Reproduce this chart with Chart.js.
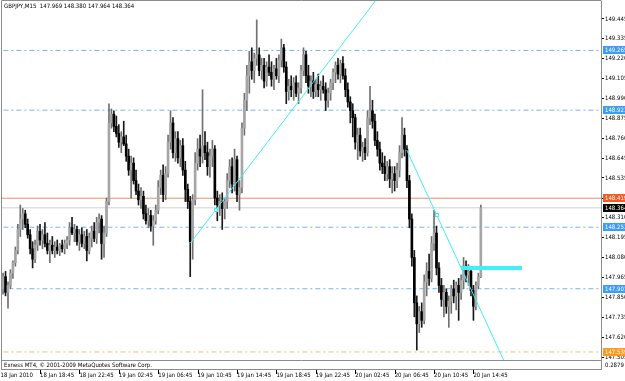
<!DOCTYPE html>
<html>
<head>
<meta charset="utf-8">
<title>GBPJPY,M15</title>
<script src="https://cdn.jsdelivr.net/npm/chart.js@4.4.1/dist/chart.umd.min.js"></script>
<style>
  html, body { margin: 0; padding: 0; background: #fff; }
  #wrap { width: 625px; height: 381px; }
</style>
</head>
<body>
<div id="wrap"><canvas id="chart" width="625" height="381"></canvas></div>
<script>
// --- DATA (M15 bars, 18 Jan 14:45 .. 20 Jan 15:30) ---
const symbol = 'GBPJPY,M15';

const opens = [
  147.93,147.90,147.97,147.88,147.92,147.99,148.05,148.12,148.24,148.30,
  148.33,148.27,148.21,148.13,148.07,148.15,148.23,148.18,148.21,148.16,
  148.12,148.15,148.12,148.14,148.12,148.15,148.13,148.16,148.18,148.25,
  148.22,148.24,148.17,148.21,148.16,148.20,148.12,148.19,148.23,148.19,
  148.28,148.30,148.16,148.22,148.40,148.85,148.90,148.83,148.79,148.74,
  148.77,148.73,148.66,148.58,148.62,148.52,148.46,148.41,148.43,148.33,
  148.29,148.32,148.26,148.29,148.35,148.48,148.55,148.44,148.56,148.74,
  148.85,148.68,148.76,148.65,148.72,148.58,148.47,148.40,148.17,148.41,
  148.62,148.70,148.66,148.72,148.68,148.60,148.66,148.70,148.42,148.38,
  148.40,148.36,148.40,148.52,148.60,148.50,148.64,148.44,148.48,148.82,
  148.98,149.12,149.20,149.15,149.22,149.24,149.15,149.18,149.09,149.17,
  149.14,149.10,149.16,149.12,149.21,149.28,149.17,149.03,149.06,149.04,
  149.08,149.02,149.05,149.15,149.24,149.12,149.06,149.09,149.03,149.07,
  149.04,149.06,149.04,148.98,149.02,149.08,149.14,149.18,149.13,149.19,
  149.12,149.04,148.97,148.92,148.88,148.74,148.78,148.69,148.71,148.68,
  148.88,148.92,148.86,148.75,148.70,148.62,148.60,148.56,148.60,148.53,
  148.56,148.52,148.58,148.68,148.78,148.70,148.52,148.30,148.08,147.82,
  147.70,147.77,147.72,147.94,148.00,147.96,148.16,148.22,148.02,147.92,
  147.84,147.88,147.80,147.83,147.90,147.86,147.92,147.88,147.95,148.03,
  147.98,148.00,147.89,147.80,147.92,147.969
];
const highs = [
  147.96,147.99,148.00,147.94,148.01,148.06,148.14,148.27,148.38,148.36,
  148.35,148.30,148.24,148.17,148.18,148.26,148.27,148.24,148.28,148.22,
  148.18,148.20,148.17,148.18,148.16,148.18,148.18,148.20,148.28,148.31,
  148.27,148.26,148.24,148.25,148.23,148.24,148.22,148.26,148.28,148.31,
  148.33,148.32,148.26,148.42,148.96,148.93,148.92,148.89,148.84,148.80,
  148.86,148.78,148.70,148.66,148.65,148.58,148.50,148.48,148.46,148.38,
  148.36,148.35,148.32,148.38,148.52,148.58,148.61,148.60,148.78,148.92,
  148.88,148.80,148.80,148.75,148.76,148.63,148.50,148.43,148.44,148.68,
  148.76,148.78,149.04,148.80,148.74,148.70,148.75,148.72,148.46,148.44,
  148.45,148.42,148.56,148.64,148.65,148.70,148.66,148.52,148.85,149.02,
  149.18,149.26,149.28,149.25,149.44,149.28,149.22,149.22,149.20,149.24,
  149.20,149.18,149.22,149.24,149.33,149.30,149.20,149.10,149.12,149.11,
  149.12,149.08,149.18,149.28,149.26,149.18,149.12,149.14,149.10,149.13,
  149.09,149.12,149.08,149.05,149.10,149.16,149.20,149.22,149.21,149.23,
  149.16,149.08,149.00,148.96,148.90,148.82,148.82,148.74,148.76,148.92,
  149.06,148.98,148.90,148.80,148.74,148.68,148.66,148.63,148.64,148.60,
  148.60,148.62,148.72,148.88,148.82,148.72,148.55,148.33,148.12,147.86,
  147.80,147.82,147.98,148.05,148.10,148.20,148.35,148.26,148.05,147.96,
  147.92,147.90,147.86,147.92,147.95,147.94,147.96,147.98,148.08,148.06,
  148.04,148.02,147.92,147.94,147.99,148.380
];
const lows = [
  147.87,147.87,147.86,147.79,147.90,147.96,148.03,148.10,148.20,148.24,
  148.25,148.19,148.10,148.02,148.05,148.12,148.15,148.13,148.14,148.10,
  148.05,148.10,148.08,148.10,148.09,148.11,148.10,148.13,148.15,148.21,
  148.17,148.15,148.12,148.14,148.13,148.06,148.10,148.14,148.17,148.16,
  148.22,148.07,148.08,148.20,148.38,148.82,148.80,148.77,148.71,148.68,
  148.72,148.63,148.55,148.42,148.50,148.44,148.38,148.36,148.30,148.27,
  148.25,148.23,148.15,148.27,148.33,148.44,148.40,148.41,148.54,148.70,
  148.65,148.63,148.62,148.60,148.55,148.40,148.36,147.97,148.07,148.38,
  148.58,148.60,148.62,148.64,148.55,148.54,148.60,148.38,148.29,148.32,
  148.24,148.30,148.36,148.48,148.45,148.46,148.40,148.35,148.45,148.78,
  148.92,149.02,149.10,149.08,149.18,149.12,149.10,149.05,149.06,149.12,
  149.06,149.04,149.10,149.08,149.17,149.14,148.96,148.98,149.00,148.98,
  149.00,148.96,149.02,149.12,149.08,149.02,149.00,148.99,149.00,149.00,
  148.98,149.02,148.92,148.94,148.98,149.04,149.08,149.10,149.08,149.10,
  149.00,148.94,148.85,148.77,148.70,148.64,148.66,148.63,148.64,148.66,
  148.84,148.82,148.72,148.66,148.58,148.56,148.52,148.52,148.48,148.45,
  148.46,148.48,148.54,148.65,148.66,148.48,148.25,148.03,147.74,147.55,
  147.65,147.68,147.70,147.86,147.92,147.94,148.12,147.98,147.88,147.80,
  147.74,147.76,147.68,147.76,147.82,147.78,147.72,147.84,147.90,147.94,
  147.92,147.86,147.72,147.78,147.90,147.964
];
const closes = [
  147.90,147.97,147.88,147.92,147.99,148.05,148.12,148.24,148.30,148.33,
  148.27,148.21,148.13,148.07,148.15,148.23,148.18,148.21,148.16,148.12,
  148.15,148.12,148.14,148.12,148.15,148.13,148.16,148.18,148.25,148.22,
  148.24,148.17,148.21,148.16,148.20,148.12,148.19,148.23,148.19,148.28,
  148.30,148.16,148.22,148.40,148.85,148.90,148.83,148.79,148.74,148.77,
  148.73,148.66,148.58,148.62,148.52,148.46,148.41,148.43,148.33,148.29,
  148.32,148.26,148.29,148.35,148.48,148.55,148.44,148.56,148.74,148.85,
  148.68,148.76,148.65,148.72,148.58,148.47,148.40,148.17,148.41,148.62,
  148.70,148.66,148.72,148.68,148.60,148.66,148.70,148.42,148.38,148.40,
  148.36,148.40,148.52,148.60,148.50,148.64,148.44,148.48,148.82,148.98,
  149.12,149.20,149.15,149.22,149.24,149.15,149.18,149.09,149.17,149.14,
  149.10,149.16,149.12,149.21,149.28,149.17,149.03,149.06,149.04,149.08,
  149.02,149.05,149.15,149.24,149.12,149.06,149.09,149.03,149.07,149.04,
  149.06,149.04,148.98,149.02,149.08,149.14,149.18,149.13,149.19,149.12,
  149.04,148.97,148.92,148.88,148.74,148.78,148.69,148.71,148.68,148.88,
  148.92,148.86,148.75,148.70,148.62,148.60,148.56,148.60,148.53,148.56,
  148.52,148.58,148.68,148.78,148.70,148.52,148.30,148.08,147.82,147.70,
  147.77,147.72,147.94,148.00,147.96,148.16,148.22,148.02,147.92,147.84,
  147.88,147.80,147.83,147.90,147.86,147.92,147.88,147.95,148.03,147.98,
  148.00,147.89,147.80,147.92,147.969,148.364
];

// time axis labels (bar index -> text)
const timeTicks = [0, 16, 32, 48, 64, 80, 96, 112, 128, 144, 160, 176, 192];
const timeLabels = ['18 Jan 2010', '18 Jan 18:45', '18 Jan 22:45', '19 Jan 02:45', '19 Jan 06:45',
  '19 Jan 10:45', '19 Jan 14:45', '19 Jan 18:45', '19 Jan 22:45', '20 Jan 02:45',
  '20 Jan 06:45', '20 Jan 10:45', '20 Jan 14:45'];

// price scale labels
const priceTicks = [149.445, 149.335, 149.220, 149.105, 148.990, 148.875, 148.760, 148.645, 148.535,
  148.420, 148.310, 148.195, 148.080, 147.965, 147.850, 147.735, 147.620, 147.505];

// horizontal levels
const blueLevels = [149.265, 148.923, 148.253, 147.901];
const redLevel = 148.419;
const orangeLevel = 147.539;
const bidLevel = closes[closes.length - 1];

// trend lines: [bar index, price] start, anchor, far end
const trendUp = [[77.1, 148.163], [87.35, 148.352], [154.1, 149.584]];
const trendDown = [[164.9, 148.695], [177.1, 148.323], [205.2, 147.464]];
const zoneBar = [[187.0, 148.020], [211.7, 148.020]];

const FONT = '"Liberation Sans Narrow", "DejaVu Sans Condensed", "Liberation Sans", sans-serif';
Chart.defaults.font.family = FONT;
Chart.defaults.font.size = 6;
Chart.defaults.color = '#000';

const isBull = i => closes[i] >= opens[i];
const pts = arr => arr.map(([x, y]) => ({ x, y }));
const levelLine = (v, color, dash) => ({
    type: 'line', data: [{ x: -20, y: v }, { x: 300, y: v }],
    borderColor: color, borderWidth: 1, borderDash: dash, pointRadius: 0, order: 9
});
const trendLine = (arr, w) => ({
    type: 'line', data: pts(arr), borderColor: '#3ff0f6', borderWidth: w,
    pointRadius: 0, borderCapStyle: 'butt', order: 0
});

const dashDot = [5, 3, 2, 3];

const decorations = {
    id: 'decorations',
    beforeDraw(chart) {
        const c = chart.ctx;
        c.save();
        c.fillStyle = '#fff';
        c.fillRect(0, 0, chart.width, chart.height);
        c.restore();
    },
    afterDatasetsDraw(chart) {
        const c = chart.ctx, y = chart.scales.y, a = chart.chartArea;
        c.save();
        // price labels on the right
        const tags = [
            ...blueLevels.map(v => [v, '#3d9cf5']),
            [redLevel, '#ff5522'], [bidLevel, '#000'], [orangeLevel, '#ff9a1c']
        ];
        c.font = '6px ' + FONT;
        c.textBaseline = 'middle';
        tags.forEach(([v, col]) => {
            const py = Math.round(y.getPixelForValue(v));
            c.fillStyle = col;
            c.fillRect(a.right + 2, py - 4, 22, 8);
            c.fillStyle = '#fff';
            c.fillText(v.toFixed(3), a.right + 4, py + 0.5);
        });
        // anchor squares of the trend lines
        c.strokeStyle = '#3ff0f6';
        [trendUp[1], trendDown[1]].forEach(([i, p]) => {
            const px = Math.round(chart.scales.x.getPixelForValue(i));
            const py = Math.round(y.getPixelForValue(p));
            c.fillStyle = '#fff';
            c.fillRect(px - 1.5, py - 1.5, 3, 3);
            c.strokeRect(px - 1.5, py - 1.5, 3, 3);
        });
        c.restore();
    },
    afterDraw(chart) {
        const c = chart.ctx, a = chart.chartArea, x = chart.scales.x;
        c.save();
        c.strokeStyle = '#8c8c8c';
        c.lineWidth = 1;
        c.beginPath();
        c.moveTo(1.5, 0.5); c.lineTo(a.right + 0.5, 0.5);
        c.moveTo(1.5, 0.5); c.lineTo(1.5, 370);
        c.moveTo(1.5, 369.5); c.lineTo(a.right + 0.5, 369.5);
        c.moveTo(a.right + 0.5, a.bottom); c.lineTo(a.right + 0.5, 370);
        c.stroke();
        // time tick marks
        c.strokeStyle = '#000';
        c.beginPath();
        timeTicks.forEach(t => {
            const px = Math.round(x.getPixelForValue(t)) + 0.5;
            if (px > 2) { c.moveTo(px, 370); c.lineTo(px, 374); }
        });
        c.stroke();
        // header + footer texts
        c.fillStyle = '#000';
        c.font = '6px ' + FONT;
        c.textBaseline = 'middle';
        const n = closes.length - 1;
        c.fillText(`${symbol}  ${opens[n].toFixed(3)} ${highs[n].toFixed(3)} ${lows[n].toFixed(3)} ${closes[n].toFixed(3)}`, 4, 6);
        c.fillText('Exness MT4, \u00a9 2001-2009 MetaQuotes Software Corp.', 4, 365);
        c.fillText('0.2879', a.right + 4, 365);
        c.restore();
    }
};

new Chart(document.getElementById('chart'), {
    type: 'bar',
    data: {
        datasets: [
            // wicks
            {
                data: highs.map((h, i) => ({ x: i, y: [lows[i], h] })),
                backgroundColor: ctx => isBull(ctx.dataIndex) ? '#707070' : '#1a1a1a',
                barThickness: 1, grouped: false, borderWidth: 0, order: 2
            },
            // bodies
            {
                data: opens.map((o, i) => ({ x: i, y: [o, closes[i]] })),
                backgroundColor: ctx => isBull(ctx.dataIndex) ? '#a6a6a6' : '#000',
                barThickness: 2, grouped: false, borderWidth: 0, minBarLength: 1, order: 1
            },
            ...blueLevels.map(v => levelLine(v, '#78b4f0', dashDot)),
            levelLine(redLevel, '#f08a6a', []),
            levelLine(bidLevel, '#cfcfcf', []),
            levelLine(orangeLevel, '#f5bd78', dashDot),
            trendLine(trendUp.filter((_, k) => k !== 1), 1),
            trendLine(trendDown.filter((_, k) => k !== 1), 1),
            trendLine(zoneBar, 4)
        ]
    },
    options: {
        responsive: false,
        animation: false,
        events: [],
        layout: { padding: { left: 1, top: 1, right: 0, bottom: 0 } },
        plugins: { legend: { display: false }, tooltip: { enabled: false } },
        scales: {
            x: {
                type: 'linear', min: 0.162, max: 243.8, offset: false,
                afterFit: s => { s.height = 21; s.paddingLeft = 0; s.paddingRight = 0; },
                afterBuildTicks: s => { s.ticks = timeTicks.map(v => ({ value: v })); },
                ticks: {
                    autoSkip: false, maxRotation: 0, minRotation: 0, align: 'start', padding: 12,
                    callback: (v, idx) => timeLabels[idx]
                },
                grid: { display: false, drawTicks: false, tickLength: 0, offset: false },
                border: { display: true, color: '#8c8c8c' }
            },
            y: {
                position: 'right', min: 147.493, max: 149.548,
                afterFit: s => { s.width = 24; s.paddingTop = 0; s.paddingBottom = 0; },
                afterBuildTicks: s => { s.ticks = priceTicks.map(v => ({ value: v })); },
                ticks: { autoSkip: false, padding: 1, callback: v => v.toFixed(3) },
                grid: { drawOnChartArea: false, tickLength: 3, color: '#000' },
                border: { color: '#8c8c8c' }
            }
        }
    },
    plugins: [decorations]
});
</script>
</body>
</html>
